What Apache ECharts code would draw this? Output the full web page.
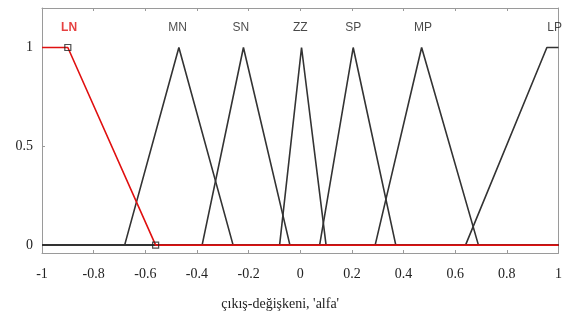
<!DOCTYPE html>
<html>
<head>
<meta charset="utf-8">
<script src="https://cdn.jsdelivr.net/npm/echarts@6/dist/echarts.min.js"></script>
<style>html,body{margin:0;padding:0;background:#fff}#c{width:565px;height:321px}</style>
</head>
<body>
<div id="c"></div>
<script>
// Membership function names and vertices
const mfNames = ['LN', 'MN', 'SN', 'ZZ', 'SP', 'MP', 'LP'];
const lnPts = [[-1, 1], [-0.9, 1], [-0.56, 0], [1, 0]];
const mnPts = [[-1, 0], [-0.68, 0], [-0.47, 1], [-0.26, 0], [1, 0]];
const snPts = [[-1, 0], [-0.38, 0], [-0.22, 1], [-0.04, 0], [1, 0]];
const zzPts = [[-1, 0], [-0.08, 0], [0.005, 1], [0.1, 0], [1, 0]];
const spPts = [[-1, 0], [0.075, 0], [0.205, 1], [0.37, 0], [1, 0]];
const mpPts = [[-1, 0], [0.29, 0], [0.47, 1], [0.69, 0], [1, 0]];
const lpPts = [[-1, 0], [0.64, 0], [0.955, 1], [1, 1]];
const lnMarkers = [[-0.9, 1], [-0.56, 0]];
const labelX = [-0.895, -0.475, -0.23, 0.0, 0.205, 0.475, 0.985];
const labelY = 1.1;
const yTicks = [0, 0.5, 1];
const xTitle = "çıkış-değişkeni, 'alfa'";

const chart = echarts.init(document.getElementById('c'), null, {renderer: 'canvas'});
const blackSets = [mnPts, snPts, zzPts, spPts, mpPts, lpPts];
const series = blackSets.map(d => ({
  type: 'line', data: d, symbol: 'none', z: 2,
  lineStyle: {color: '#333', width: 1.6}, animation: false
}));
series.push({
  type: 'line', data: lnPts, symbol: 'none', z: 3,
  lineStyle: {color: '#e01010', width: 1.6}, animation: false
});
series.push({
  type: 'scatter', data: lnMarkers, symbol: 'rect', symbolSize: 6, z: 4,
  itemStyle: {color: 'rgba(0,0,0,0)', borderColor: '#222', borderWidth: 1.2}, animation: false
});
series.push({
  type: 'scatter', z: 5, symbolSize: 0, animation: false,
  data: mfNames.map((n, i) => ({
    value: [labelX[i], labelY],
    label: {
      show: true, formatter: n, position: 'inside',
      color: i === 0 ? '#e01010' : '#1a1a1a',
      fontWeight: i === 0 ? 'bold' : 'normal',
      fontFamily: 'Liberation Sans', fontSize: 12
    }
  }))
});

const axisGray = '#9a9a9a';
chart.setOption({
  animation: false,
  grid: {left: 42, right: 2, top: 8, bottom: 68, containLabel: false},
  xAxis: [{
    type: 'value', min: -1, max: 1, interval: 0.2, position: 'bottom',
    axisLine: {show: true, onZero: false, lineStyle: {color: axisGray, width: 1}},
    axisTick: {show: true, inside: true, length: 3, lineStyle: {color: axisGray}},
    axisLabel: {color: '#222', fontFamily: 'Liberation Serif', fontSize: 14, margin: 14,
      formatter: v => String(Math.round(v * 10) / 10)},
    splitLine: {show: false},
    name: xTitle, nameLocation: 'middle', nameGap: 44,
    nameTextStyle: {color: '#222', fontFamily: 'Liberation Serif', fontSize: 14, padding: [0, 40, 0, 0]}
  }, {
    type: 'value', min: -1, max: 1, interval: 0.2, position: 'top',
    axisLine: {show: true, onZero: false, lineStyle: {color: axisGray, width: 1}},
    axisTick: {show: true, inside: true, length: 3, lineStyle: {color: axisGray}},
    axisLabel: {show: false}, splitLine: {show: false}
  }],
  yAxis: [{
    type: 'value', min: -0.04, max: 1.2, position: 'left',
    axisLine: {show: true, onZero: false, lineStyle: {color: axisGray, width: 1}},
    axisTick: {show: true, inside: true, length: 3, customValues: yTicks, lineStyle: {color: axisGray}},
    axisLabel: {color: '#222', fontFamily: 'Liberation Serif', fontSize: 14, margin: 9, customValues: yTicks,
      formatter: v => String(v)},
    splitLine: {show: false}
  }, {
    type: 'value', min: -0.04, max: 1.2, position: 'right',
    axisLine: {show: true, onZero: false, lineStyle: {color: axisGray, width: 1}},
    axisTick: {show: false}, axisLabel: {show: false}, splitLine: {show: false}
  }],
  series: series
});
</script>
</body>
</html>
